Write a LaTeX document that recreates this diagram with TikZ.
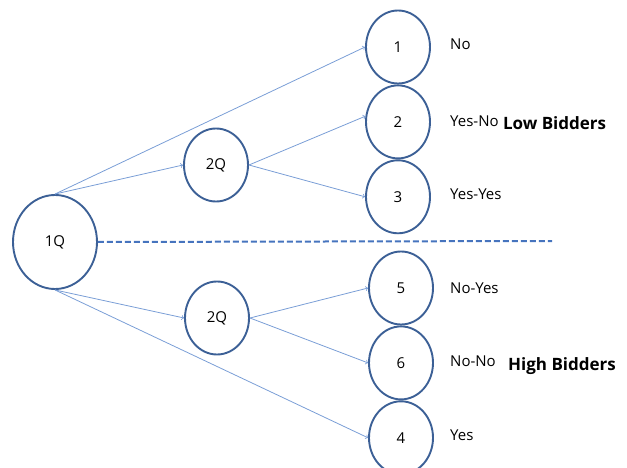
\documentclass[tikz,border=0pt]{standalone}
\usepackage{fontspec}
\setmainfont{Open Sans}
\usetikzlibrary{shapes.geometric, positioning}
\definecolor{ringblue}{HTML}{3C6096}
\definecolor{linkblue}{HTML}{7A9ED6}
\definecolor{splitblue}{HTML}{4674BE}

\begin{document}
\begin{tikzpicture}[x=1pt, y=-1pt,
        every node/.style={font=\fontsize{15}{17}\selectfont},
        state/.style={draw=ringblue, line width=1.9pt, ellipse, inner sep=0pt, minimum width=64pt, minimum height=73pt},
        answer/.style={anchor=west, inner sep=0pt},
        group/.style={anchor=west, inner sep=0pt, font=\fontsize{17}{19}\selectfont\bfseries},
        arrow/.style={->, >=to, draw=linkblue, line width=0.8pt}
    ]
    \useasboundingbox (0,0) rectangle (627,468);

    % Questions
    \node[state, minimum width=84pt, minimum height=94pt] (q1) at (55,242) {1Q};
    \node[state] (q2low) at (216,165) {2Q};
    \node[state] (q2high) at (217,318) {2Q};

    % Outcomes, low bidders
    \node[state] (n1) at (398,47) {1};
    \node[state, below=0pt of n1] (n2) {2};
    \node[state, below=0pt of n2] (n3) {3};

    % Outcomes, high bidders
    \node[state] (n5) at (401,288) {5};
    \node[state, below=0pt of n5] (n6) {6};
    \node[state, below=0pt of n6] (n4) {4};

    % Answers
    \node[answer] (a1) at (450,44) {No};
    \node[answer] (a2) at (450,121) {Yes-No};
    \node[answer] (a3) at (450,194) {Yes-Yes};
    \node[answer] (a5) at (450,288) {No-Yes};
    \node[answer] (a6) at (450,361) {No-No};
    \node[answer] (a4) at (450,435) {Yes};
    \node[group, right=4pt of a2, yshift=-2pt] (low) {Low Bidders};
    \node[group, right=12pt of a6, yshift=-5pt] (high) {High Bidders};

    % Split
    \coordinate (splitend) at (552,241);
    \draw[draw=splitblue, line width=2pt, dash pattern=on 6pt off 3pt] (q1.east) -- (splitend);

    % Arrows
    \draw[arrow] (q1.north) -- (n1.west);
    \draw[arrow] (q1.north) -- (q2low.west);
    \draw[arrow] (q2low.east) -- (n2.170);
    \draw[arrow] (q2low.east) -- (n3.west);
    \draw[arrow] (q1.south) -- (q2high.west);
    \draw[arrow] (q1.south) -- (n4.west);
    \draw[arrow] (q2high.east) -- (n5.west);
    \draw[arrow] (q2high.east) -- (n6.west);
\end{tikzpicture}
\end{document}
